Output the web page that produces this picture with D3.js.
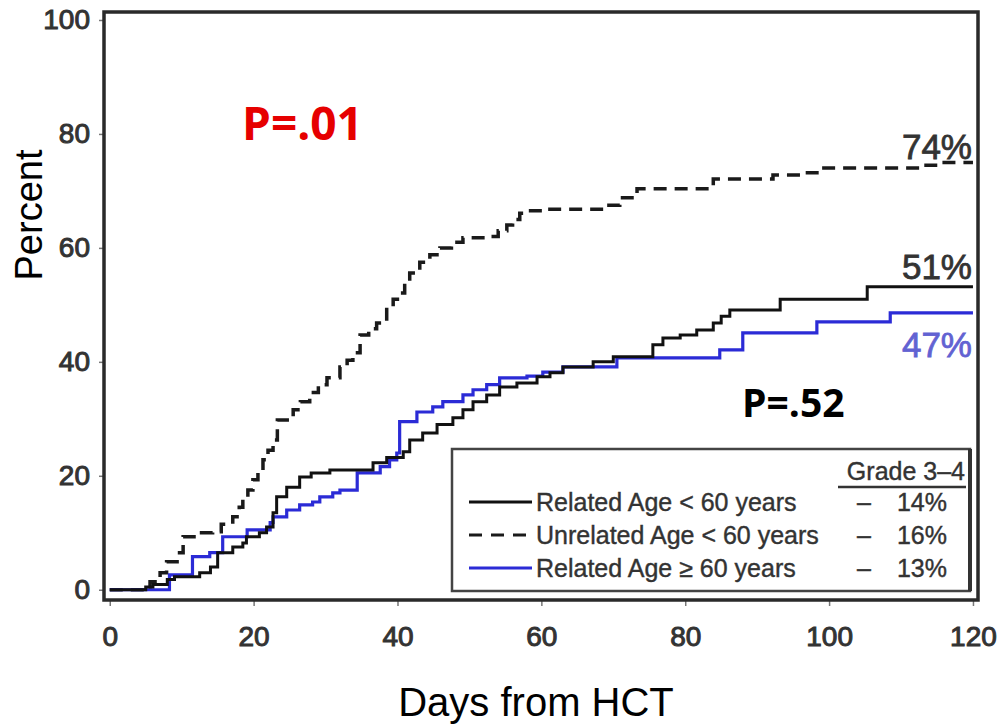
<!DOCTYPE html>
<html>
<head>
<meta charset="utf-8">
<script src="https://cdn.jsdelivr.net/npm/d3@7/dist/d3.min.js"></script>
<style>
  html, body { margin: 0; padding: 0; background: #fff; }
  svg { display: block; font-family: "Liberation Sans", Arial, sans-serif; }
</style>
</head>
<body>
<svg id="chart" width="1005" height="726"></svg>
<script>
// Cumulative incidence of acute GVHD by donor type / age (days, percent)
const relatedUnder60 = [
  [0,0],[5,0.5],[6,0.9],[8,1.8],[9,2.3],[12.5,3],[14,4],[15,6.5],[17.1,7.5],[18.5,8.2],
  [19,9.3],[20.8,10],[21.8,11],[22.7,13.5],[23.2,16.3],[24.6,18],[26.4,19.8],[28,20.5],
  [30.6,21],[36.6,22.3],[38.5,23.2],[40.8,24.2],[41.7,26.3],[43.5,27.5],[45.5,29],
  [47.7,30.2],[49.1,31.6],[50.5,33],[52.4,34.2],[54.2,35.6],[56.6,36.3],[59.4,37.4],
  [61.2,38.1],[63,39.1],[67.2,40],[70,40.9],[75.5,43],[76.9,44.2],[79.3,44.7],[81.6,45.6],
  [83.9,46.8],[85,48],[86.2,49.1],[93.2,51],[105.3,53.2],[120,53.2]
];
const unrelatedUnder60 = [
  [0,0],[5,0.5],[5.6,1.4],[7,3],[7.9,4.9],[9.7,6.5],[10.2,9.3],[12,10],[14.3,10.2],
  [15.5,11.5],[17.1,12.8],[18,14.5],[18.5,15.8],[19.2,17.5],[19.9,19.3],[20.6,21],
  [21.3,22.8],[22,24.5],[22.7,26.3],[23.3,29.8],[25.5,31.6],[26.5,33],[27.8,34.6],[29,36],
  [30.2,37.2],[32,39.1],[33,40.3],[33.8,41.6],[34.8,44.7],[36,45.8],[37.1,46.8],[38.5,49.6],
  [39.4,51],[40.3,52.1],[41,54],[41.7,55.6],[43.1,57.5],[44.5,58.8],[45.9,60],[47.5,61],
  [49.1,61.8],[52.4,62],[54,63],[55.2,64],[56,65],[57,66.1],[58.5,66.5],[60.2,66.8],
  [69,67.5],[70.9,68.8],[73.3,70.4],[83.9,72.1],[92.2,72.8],[96,73.2],[99,74],[112.7,74.5],
  [115.4,75],[120,75]
];
const relatedOver60 = [
  [0,0],[8.3,2.6],[11.5,5.8],[13.9,6.5],[15.7,9.3],[19.1,10.5],[22.3,11.8],[22.7,12.8],
  [24.6,14],[26.4,14.9],[28.2,15.4],[29.2,16.3],[31,17],[32,17.5],[34.4,20.5],[37.6,21.6],
  [38.9,22.8],[39.9,24],[40.3,29.5],[42.7,31.2],[44.9,32.1],[46.3,33],[49.1,34.2],
  [50.5,35.1],[52.4,36],[54.2,37.2],[58,37.5],[60.2,38.2],[63,39.1],[70.5,40.7],[84.8,42.1],
  [88,45.1],[98.3,47],[108.5,48.6],[120,48.6]
];

const seriesNames = ["Related Age < 60 years", "Unrelated Age < 60 years", "Related Age \u2265 60 years"];
const grade34 = ["14%", "16%", "13%"];
const day100Labels = ["51%", "74%", "47%"];
const xTicks = [0, 20, 40, 60, 80, 100, 120];
const yTicks = [0, 20, 40, 60, 80, 100];

const svg = d3.select("#chart");
const plotLeft = 104, plotRight = 978, plotTop = 12, plotBottom = 600;

const x = d3.scaleLinear().domain([-0.8, 120.7]).range([plotLeft, plotRight]);
const y = d3.scaleLinear().domain([-1.8, 101.4]).range([plotBottom, plotTop]);

const textCol = "#333";
const blue = "#2b2bd6";

// axes
const xAxis = svg.append("g").attr("transform", `translate(0,${plotBottom})`)
  .call(d3.axisBottom(x).tickValues(xTicks).tickSize(6).tickPadding(20));
const yAxis = svg.append("g").attr("transform", `translate(${plotLeft},0)`)
  .call(d3.axisLeft(y).tickValues(yTicks).tickSize(5).tickPadding(9));
[xAxis, yAxis].forEach(a => {
  a.select(".domain").remove();
  a.selectAll(".tick line").attr("stroke", "#777").attr("stroke-width", 1.5);
  a.selectAll(".tick text").attr("fill", textCol).attr("font-size", 28)
    .attr("font-family", "Liberation Sans, Arial, sans-serif")
    .attr("stroke", textCol).attr("stroke-width", 1);
});

// plot frame
svg.append("rect").attr("x", plotLeft).attr("y", plotTop)
  .attr("width", plotRight - plotLeft).attr("height", plotBottom - plotTop)
  .attr("fill", "none").attr("stroke", "#2a2a2a").attr("stroke-width", 3.5);

// curves
const line = d3.line().x(d => x(d[0])).y(d => y(d[1])).curve(d3.curveStepAfter);
svg.append("path").datum(unrelatedUnder60).attr("d", line)
  .attr("fill", "none").attr("stroke", "#1a1a1a").attr("stroke-width", 3.5)
  .attr("stroke-dasharray", "13,8");
svg.append("path").datum(relatedOver60).attr("d", line)
  .attr("fill", "none").attr("stroke", blue).attr("stroke-width", 3.2);
svg.append("path").datum(relatedUnder60).attr("d", line)
  .attr("fill", "none").attr("stroke", "#111").attr("stroke-width", 3);

// day-100 labels
const endLabels = [
  { t: day100Labels[1], dy: 146, c: textCol },
  { t: day100Labels[0], dy: 266, c: textCol },
  { t: day100Labels[2], dy: 344, c: "#6262d2" }
];
endLabels.forEach(l => {
  svg.append("text").attr("x", 972).attr("y", l.dy).attr("dy", "0.36em")
    .attr("text-anchor", "end").attr("font-size", 35).attr("fill", l.c)
    .attr("stroke", l.c).attr("stroke-width", 0.8).text(l.t);
});

// p-values
svg.append("text").attr("x", 242).attr("y", 123).attr("dy", "0.36em")
  .attr("font-size", 46).attr("font-weight", "bold").attr("fill", "#e60000")
  .attr("font-family", "Open Sans, Liberation Sans, sans-serif").text("P=.01");
svg.append("text").attr("x", 742).attr("y", 403).attr("dy", "0.36em")
  .attr("font-size", 39).attr("font-weight", "bold").attr("fill", "#000")
  .attr("font-family", "Open Sans, Liberation Sans, sans-serif").text("P=.52");

// axis titles
svg.append("text").attr("transform", "translate(28,215) rotate(-90)")
  .attr("text-anchor", "middle").attr("dy", "0.36em").attr("font-size", 38)
  .attr("fill", "#000").text("Percent");
svg.append("text").attr("x", 536).attr("y", 716)
  .attr("text-anchor", "middle").attr("font-size", 40)
  .attr("fill", "#000").text("Days from HCT");

// legend
const lg = svg.append("g");
lg.append("rect").attr("x", 452).attr("y", 449).attr("width", 518).attr("height", 142)
  .attr("fill", "#fff").attr("stroke", "#444").attr("stroke-width", 2.5);
lg.append("line").attr("x1", 970).attr("x2", 970).attr("y1", 449).attr("y2", 591)
  .attr("stroke", "#333").attr("stroke-width", 4);
lg.append("text").attr("x", 965).attr("y", 471).attr("dy", "0.36em").attr("text-anchor", "end")
  .attr("font-size", 25).attr("fill", textCol).attr("stroke", textCol).attr("stroke-width", 0.4)
  .text("Grade 3\u20134");
lg.append("line").attr("x1", 838).attr("x2", 966).attr("y1", 487).attr("y2", 487)
  .attr("stroke", textCol).attr("stroke-width", 2.5);
const rowY = [502, 535, 568];
const styles = [
  { c: "#111", dash: null },
  { c: "#1a1a1a", dash: "13,9" },
  { c: blue, dash: null }
];
seriesNames.forEach((name, i) => {
  const ln = lg.append("line").attr("x1", 469).attr("x2", 532).attr("y1", rowY[i]).attr("y2", rowY[i])
    .attr("stroke", styles[i].c).attr("stroke-width", 3);
  if (styles[i].dash) ln.attr("stroke-dasharray", styles[i].dash);
  lg.append("text").attr("x", 536).attr("y", rowY[i]).attr("dy", "0.36em")
    .attr("font-size", 25).attr("fill", textCol).attr("stroke", textCol).attr("stroke-width", 0.4)
    .text(name);
  lg.append("text").attr("x", 864).attr("y", rowY[i]).attr("dy", "0.36em").attr("text-anchor", "middle")
    .attr("font-size", 25).attr("fill", textCol).attr("stroke", textCol).attr("stroke-width", 0.4)
    .text("\u2013");
  lg.append("text").attr("x", 947).attr("y", rowY[i]).attr("dy", "0.36em").attr("text-anchor", "end")
    .attr("font-size", 25).attr("fill", textCol).attr("stroke", textCol).attr("stroke-width", 0.4)
    .text(grade34[i]);
});
</script>
</body>
</html>
